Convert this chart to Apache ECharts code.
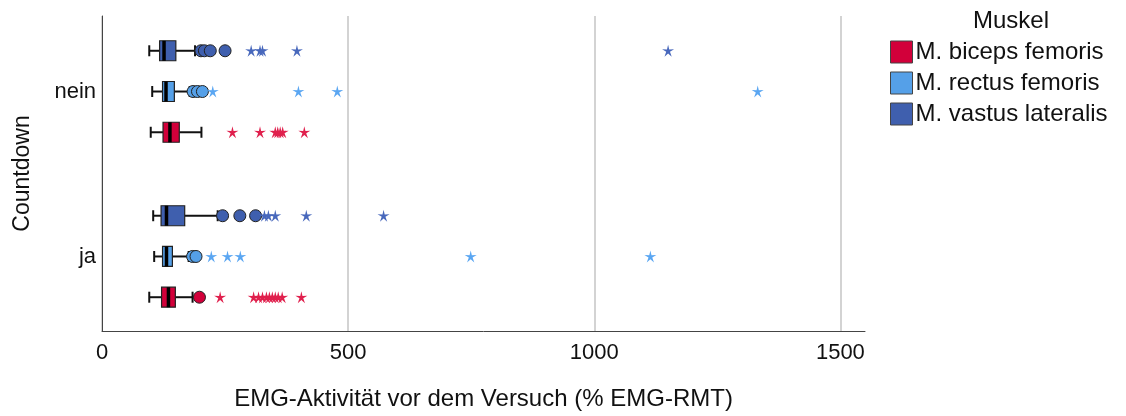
<!DOCTYPE html>
<html>
<head>
<meta charset="utf-8">
<script src="https://cdn.jsdelivr.net/npm/echarts@6/dist/echarts.min.js"></script>
<style>html,body{margin:0;padding:0;background:#fff}#c{width:1126px;height:416px}</style>
</head>
<body>
<div id="c"></div>
<script>
// Categories (y positions: index 0 = ja, 1 = nein)
const categories = ['ja', 'nein'];
const muscles = ['M. biceps femoris', 'M. rectus femoris', 'M. vastus lateralis'];
const xTicks = [0, 500, 1000, 1500];

// Box statistics [min, Q1, median, Q3, max], per group [ja, nein]
const bicepsBox = [[96, 121, 135, 149, 184], [99, 124, 138, 157, 202]];
const rectusBox = [[106, 123, 131, 143, 176], [102, 123, 130, 147, 178]];
const vastusBox = [[104, 120, 131, 168, 235], [96, 117, 126, 150, 189]];

// Outliers (circles), per group [ja, nein]
const bicepsOut = [[198], []];
const rectusOut = [[184, 191], [185, 194, 204]];
const vastusOut = [[245, 280, 312], [201, 208, 220, 250]];

// Extreme values (stars), per group [ja, nein]
const bicepsExt = [[240, 308, 318, 326, 334, 340, 346, 352, 358, 366, 405], [265, 321, 352, 357, 362, 367, 411]];
const rectusExt = [[222, 255, 281, 749, 1114], [225, 399, 478, 1332]];
const vastusExt = [[330, 338, 352, 415, 572], [303, 321, 326, 396, 1150]];

const boxes = [bicepsBox, rectusBox, vastusBox];
const outs = [bicepsOut, rectusOut, vastusOut];
const exts = [bicepsExt, rectusExt, vastusExt];

const fillColors = ['#d2003a', '#55a0e8', '#3f5fae'];
const starColors = ['#e0204d', '#5aa6f2', '#4868bc'];
const offsets = [-0.247, 0, 0.247];
const STAR = 'path://M50,0 L59,37 L98,35 L65,56 L79,95 L50,70 L21,95 L35,56 L2,35 L41,37 Z';

const series = [];
muscles.forEach((name, m) => {
  const boxData = boxes[m].map((s, g) => [g + offsets[m]].concat(s));
  series.push({
    type: 'custom', name: name, z: 3,
    itemStyle: { color: fillColors[m] },
    data: boxData,
    encode: { x: [1, 2, 3, 4, 5], y: 0 },
    renderItem: function (params, api) {
      const y = api.value(0);
      const pMin = api.coord([api.value(1), y]);
      const pQ1 = api.coord([api.value(2), y]);
      const pMed = api.coord([api.value(3), y]);
      const pQ3 = api.coord([api.value(4), y]);
      const pMax = api.coord([api.value(5), y]);
      const cy = pMin[1];
      const h = 20, cap = 11;
      const ls = { stroke: '#111', lineWidth: 2 };
      return {
        type: 'group',
        children: [
          { type: 'line', shape: { x1: pMin[0], y1: cy, x2: pQ1[0], y2: cy }, style: ls },
          { type: 'line', shape: { x1: pQ3[0], y1: cy, x2: pMax[0], y2: cy }, style: ls },
          { type: 'line', shape: { x1: pMin[0], y1: cy - cap / 2, x2: pMin[0], y2: cy + cap / 2 }, style: ls },
          { type: 'line', shape: { x1: pMax[0], y1: cy - cap / 2, x2: pMax[0], y2: cy + cap / 2 }, style: ls },
          { type: 'rect', shape: { x: pQ1[0], y: cy - h / 2, width: pQ3[0] - pQ1[0], height: h },
            style: { fill: fillColors[m], stroke: '#222', lineWidth: 1.2 } },
          { type: 'line', shape: { x1: pMed[0], y1: cy - h / 2, x2: pMed[0], y2: cy + h / 2 },
            style: { stroke: '#000', lineWidth: 3.5 } }
        ]
      };
    }
  });
  const circ = [];
  outs[m].forEach((arr, g) => arr.forEach(v => circ.push([v, g + offsets[m]])));
  series.push({
    type: 'scatter', name: name, symbol: 'circle', symbolSize: 12, z: 4,
    itemStyle: { color: fillColors[m], borderColor: '#222', borderWidth: 1, opacity: 1 },
    data: circ
  });
  const st = [];
  exts[m].forEach((arr, g) => arr.forEach(v => st.push([v, g + offsets[m]])));
  series.push({
    type: 'scatter', name: name, symbol: STAR, symbolSize: 12, z: 4,
    itemStyle: { color: starColors[m], opacity: 1 },
    data: st
  });
});

const chart = echarts.init(document.getElementById('c'), null, { renderer: 'canvas' });
chart.setOption({
  animation: false,
  textStyle: { fontFamily: 'Liberation Sans, Arial, sans-serif' },
  title: {
    text: 'Muskel', left: 1006, top: 4, textAlign: 'center',
    textStyle: { fontSize: 24, fontWeight: 'normal', color: '#111', fontFamily: 'Liberation Sans' }
  },
  legend: {
    orient: 'vertical', left: 890, top: 40, padding: 0, itemWidth: 22, itemHeight: 22, itemGap: 7,
    textStyle: { fontSize: 24, lineHeight: 22, color: '#111', padding: [0, 0, 0, -2] },
    data: muscles.map((n, m) => ({
      name: n, icon: 'rect',
      itemStyle: { color: fillColors[m], borderColor: '#444', borderWidth: 1 }
    }))
  },
  grid: { left: 102, right: 261, top: 16, bottom: 83 },
  xAxis: {
    type: 'value', min: 0, max: 1550, interval: 500,
    name: 'EMG-Aktivität vor dem Versuch (% EMG-RMT)', nameLocation: 'middle', nameGap: 56,
    nameTextStyle: { fontSize: 24, color: '#111' },
    axisLine: { show: true, onZero: false, lineStyle: { color: '#444', width: 1 } },
    axisTick: { show: false },
    axisLabel: { fontSize: 22, color: '#111', margin: 11, showMaxLabel: false,
      formatter: v => (xTicks.indexOf(v) >= 0 ? String(v) : '') },
    splitLine: { show: true, showMaxLine: false, lineStyle: { color: '#c4c4c4', width: 1.5 } }
  },
  yAxis: {
    type: 'value', min: -0.4518, max: 1.4578,
    name: 'Countdown', nameLocation: 'middle', nameGap: 68, nameRotate: 90,
    nameTextStyle: { fontSize: 23, color: '#111' },
    axisLine: { show: true, onZero: false, lineStyle: { color: '#444', width: 1 } },
    axisTick: { show: false },
    axisLabel: { fontSize: 22, color: '#111', margin: 6,
      customValues: [0, 1], formatter: v => categories[Math.round(v)] },
    splitLine: { show: false }
  },
  series: series
});
</script>
</body>
</html>
